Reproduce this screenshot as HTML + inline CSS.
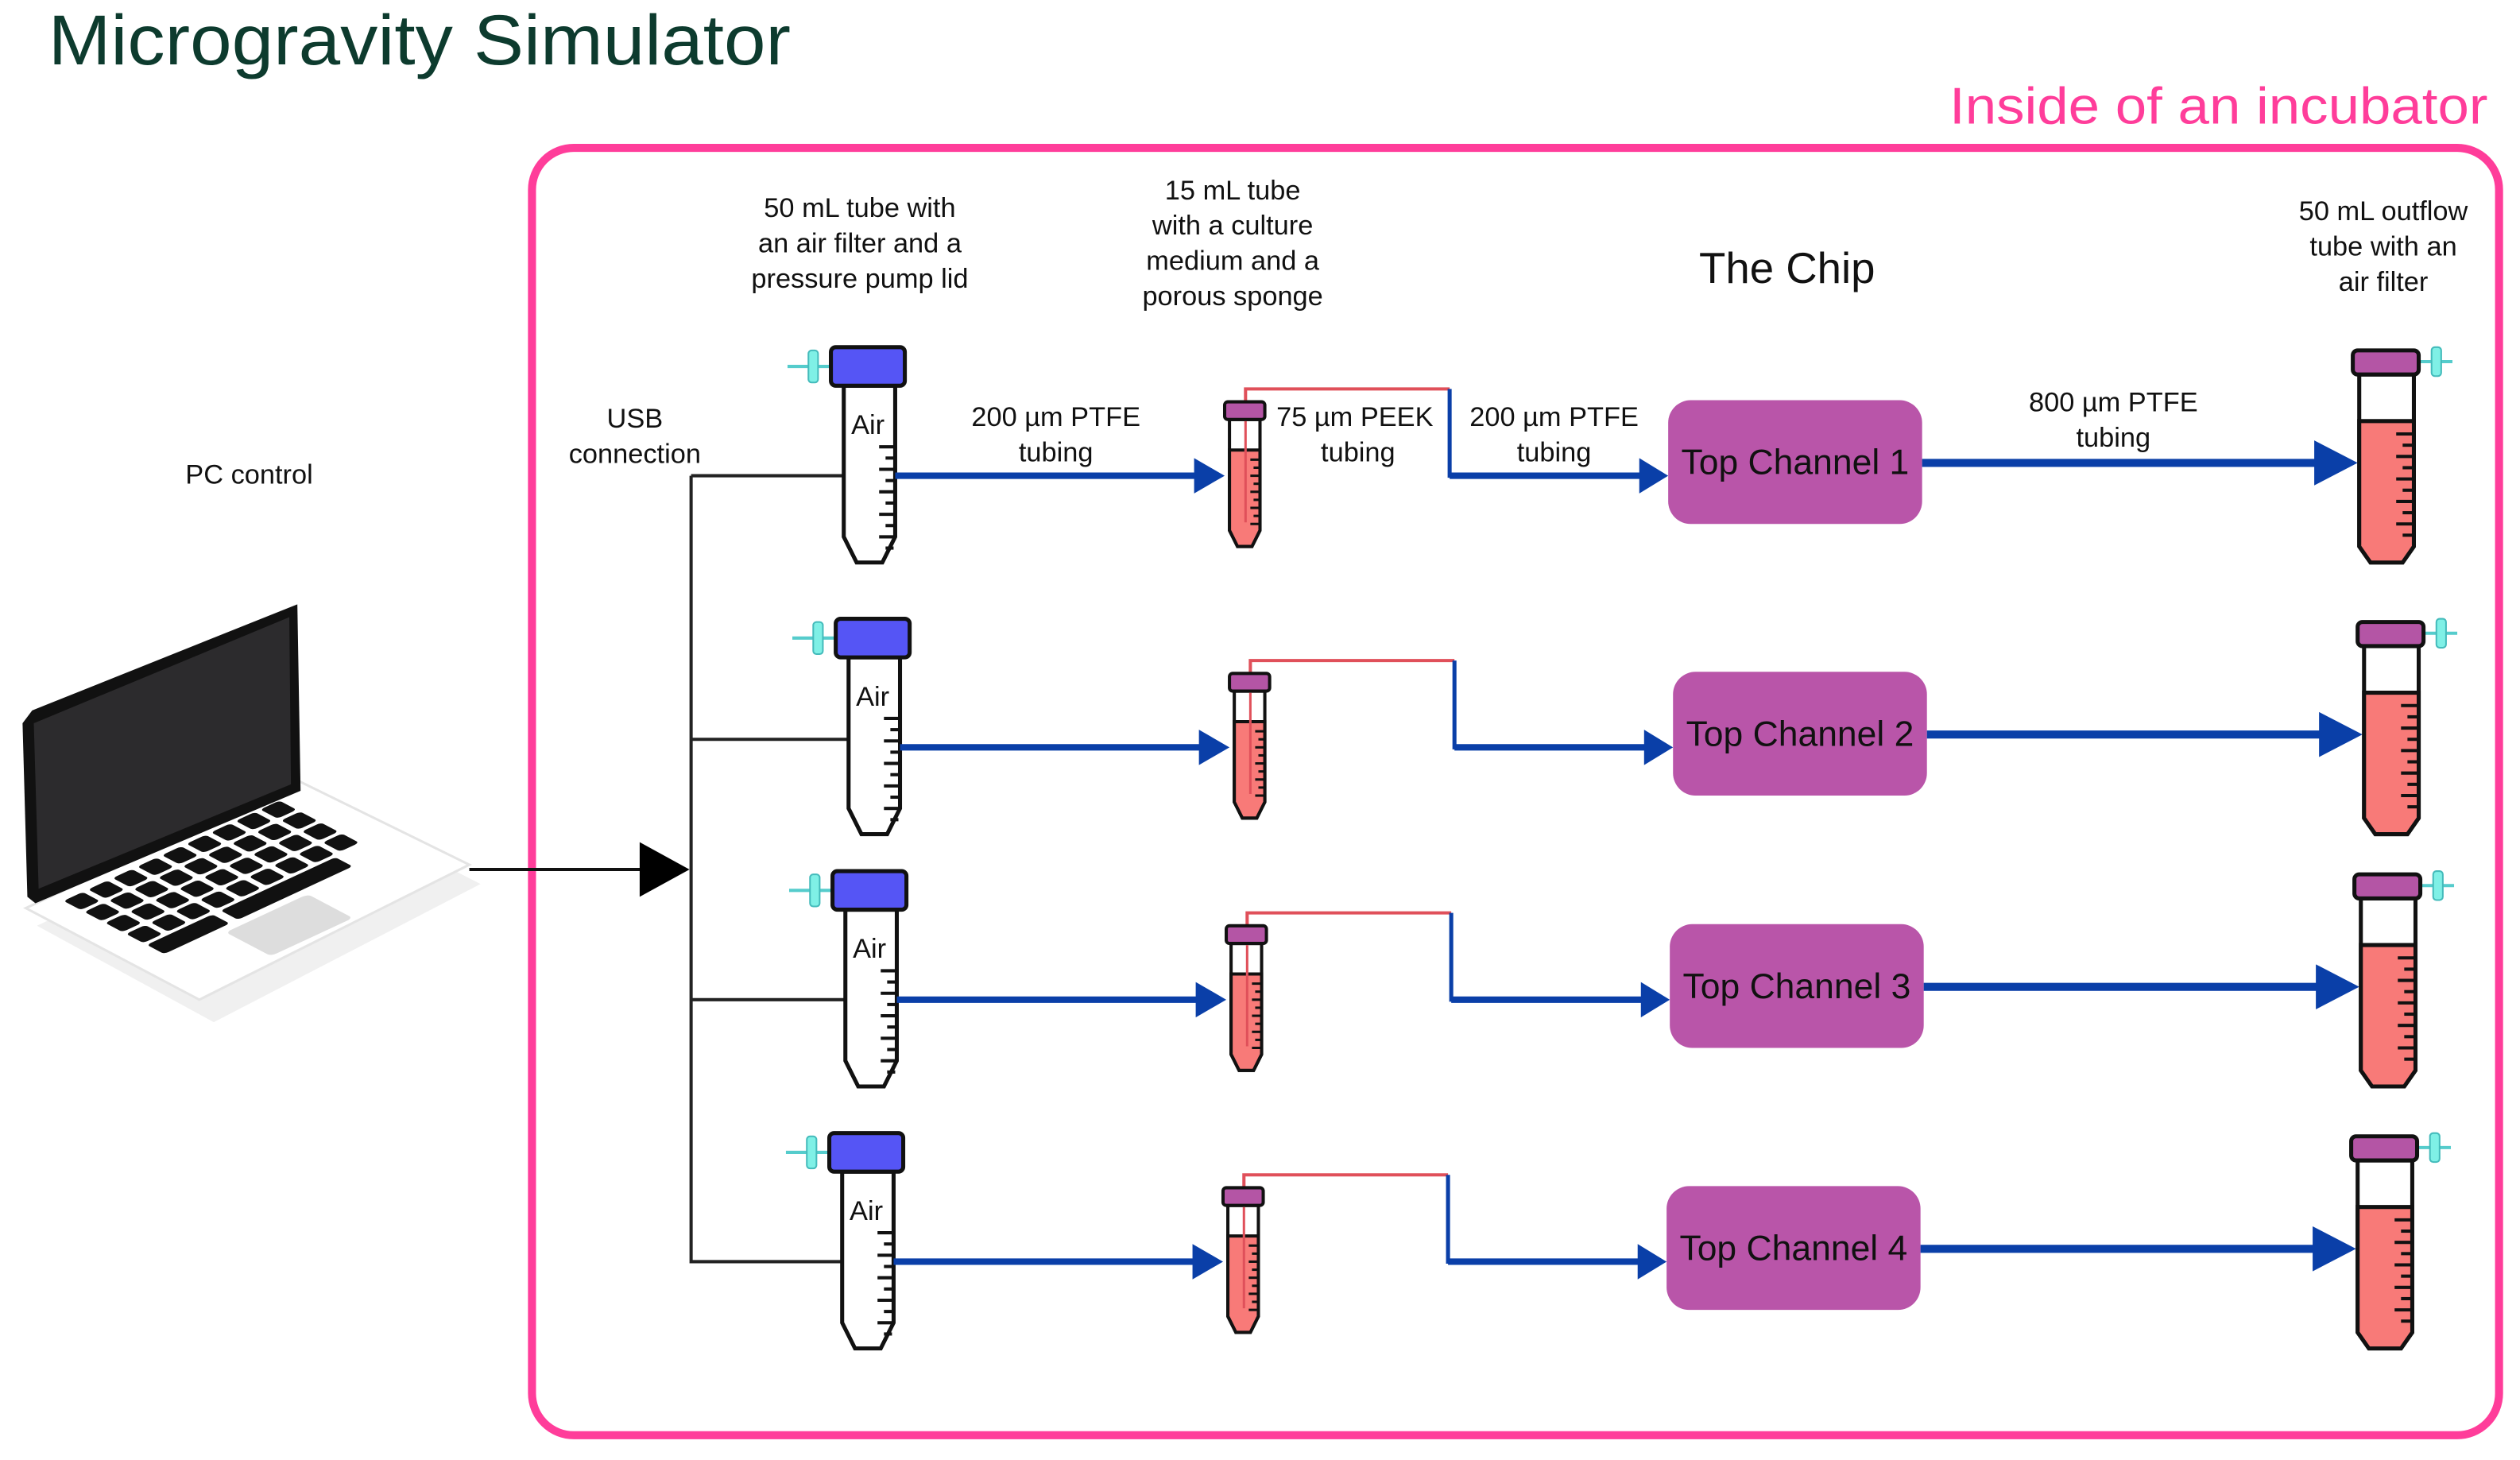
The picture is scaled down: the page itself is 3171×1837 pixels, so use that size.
<!DOCTYPE html>
<html><head><meta charset="utf-8"><style>html,body{margin:0;padding:0;background:#fff}svg{display:block}text{font-family:"Liberation Sans",sans-serif;fill:#111}</style></head><body>
<svg width="3171" height="1837" viewBox="0 0 1568 908.4" xmlns="http://www.w3.org/2000/svg">
<defs>
<g id="ticksA" stroke="#111" stroke-width="2">
<line x1="30" y1="62" x2="40" y2="62"/><line x1="34" y1="69" x2="40" y2="69"/><line x1="30" y1="76" x2="40" y2="76"/><line x1="34" y1="83" x2="40" y2="83"/><line x1="30" y1="90" x2="40" y2="90"/><line x1="34" y1="97" x2="40" y2="97"/><line x1="30" y1="104" x2="40" y2="104"/><line x1="34" y1="111" x2="40" y2="111"/><line x1="30" y1="118" x2="40" y2="118"/><line x1="34" y1="125" x2="39" y2="125"/>
</g>
<g id="t50">
<line x1="-27" y1="12" x2="0" y2="12" stroke="#5cc" stroke-width="2"/>
<rect x="-14" y="2" width="6" height="20" rx="2" fill="#7ff0e6" stroke="#4bb" stroke-width="1"/>
<path d="M8,24 L8,118 L16,134 L32,134 L40,118 L40,24 Z" fill="#fff" stroke="#111" stroke-width="2.5"/>
<use href="#ticksA"/>
<rect x="0" y="0" width="46" height="24" rx="3" fill="#5555f5" stroke="#111" stroke-width="2.5"/>
</g>
<g id="t15">
<path d="M3,11 L3,80 L8,90 L17,90 L22,80 L22,11 Z" fill="#fff" stroke="#111" stroke-width="2"/>
<path d="M3,30 L3,80 L8,90 L17,90 L22,80 L22,30 Z" fill="#f87a78" stroke="#111" stroke-width="2"/>
<g stroke="#111" stroke-width="1.5"><line x1="16" y1="36" x2="22" y2="36"/><line x1="18" y1="41" x2="22" y2="41"/><line x1="16" y1="46" x2="22" y2="46"/><line x1="18" y1="51" x2="22" y2="51"/><line x1="16" y1="56" x2="22" y2="56"/><line x1="18" y1="61" x2="22" y2="61"/><line x1="16" y1="66" x2="22" y2="66"/><line x1="18" y1="71" x2="22" y2="71"/><line x1="16" y1="76" x2="22" y2="76"/></g>
<rect x="0" y="0" width="25" height="11" rx="2" fill="#b455a5" stroke="#111" stroke-width="2"/>
</g>
<g id="tout">
<path d="M4,15 L4,122 L11,132 L31,132 L38,122 L38,15 Z" fill="#fff" stroke="#111" stroke-width="2.5"/>
<path d="M4,44 L4,122 L11,132 L31,132 L38,122 L38,44 Z" fill="#f87a78" stroke="#111" stroke-width="2.5"/>
<g stroke="#111" stroke-width="2"><line x1="27" y1="52" x2="38" y2="52"/><line x1="31" y1="59" x2="38" y2="59"/><line x1="27" y1="66" x2="38" y2="66"/><line x1="31" y1="73" x2="38" y2="73"/><line x1="27" y1="80" x2="38" y2="80"/><line x1="31" y1="87" x2="38" y2="87"/><line x1="27" y1="94" x2="38" y2="94"/><line x1="31" y1="101" x2="38" y2="101"/><line x1="27" y1="108" x2="38" y2="108"/><line x1="31" y1="115" x2="38" y2="115"/></g>
<line x1="41" y1="7" x2="62" y2="7" stroke="#5cc" stroke-width="2"/>
<rect x="49" y="-2" width="6" height="18" rx="2" fill="#7ff0e6" stroke="#4bb" stroke-width="1"/>
<rect x="0" y="0" width="41" height="15" rx="3" fill="#b455a5" stroke="#111" stroke-width="2.5"/>
</g>
<g id="row">
<use href="#t50" x="517" y="216"/>
<line x1="557" y1="296" x2="745" y2="296" stroke="#0a3fa8" stroke-width="4"/>
<polygon points="743,285 762,296 743,307" fill="#0a3fa8"/>
<polyline points="775,325 775,242 902,242" fill="none" stroke="#e0505a" stroke-width="2"/>
<use href="#t15" x="762" y="250"/>
<line x1="775" y1="262" x2="775" y2="325" stroke="#e0505a" stroke-width="1.5"/>
<polyline points="902,242 902,296 1020,296" fill="none" stroke="#0a3fa8" stroke-width="2.5"/>
<line x1="902" y1="296" x2="1022" y2="296" stroke="#0a3fa8" stroke-width="4"/>
<polygon points="1020,285 1038,296 1020,307" fill="#0a3fa8"/>
<rect x="1038" y="249" width="158" height="77" rx="14" fill="#b955a9"/>
<line x1="1196" y1="288" x2="1444" y2="288" stroke="#0a3fa8" stroke-width="5"/>
<polygon points="1440,274 1467,288 1440,302" fill="#0a3fa8"/>
<use href="#tout" x="1464" y="218"/>
<text x="540" y="270" font-size="17" text-anchor="middle">Air</text>
</g>
<g id="krow">
<rect x="0" y="0" width="7" height="10" rx="1.5"/><rect x="9" y="0" width="7" height="10" rx="1.5"/><rect x="18" y="0" width="7" height="10" rx="1.5"/><rect x="27" y="0" width="7" height="10" rx="1.5"/><rect x="36" y="0" width="7" height="10" rx="1.5"/><rect x="45" y="0" width="7" height="10" rx="1.5"/><rect x="54" y="0" width="7" height="10" rx="1.5"/><rect x="63" y="0" width="7" height="10" rx="1.5"/><rect x="72" y="0" width="7" height="10" rx="1.5"/>
</g>
</defs>

<text x="30" y="40" font-size="44" textLength="462" lengthAdjust="spacingAndGlyphs" style="fill:#0d3b2e">Microgravity Simulator</text>
<text x="1213" y="77" font-size="32" textLength="335" lengthAdjust="spacingAndGlyphs" style="fill:#ff3d9a">Inside of an incubator</text>
<rect x="331" y="92" width="1224" height="801" rx="26" fill="none" stroke="#ff3d9a" stroke-width="5"/>

<!-- laptop -->
<g>
<polygon points="20,570 190,490 296,544 130,630" fill="#ccc" opacity="0.3" transform="translate(3,6)"/>
<polygon points="16,565 186,486 292,538 124,622" fill="#fff" stroke="#e4e4e4" stroke-width="1.5"/>
<polygon points="14,450 20,442 185,376 187,492 22,562 17,558" fill="#111"/>
<polygon points="21,450 180,384 181,488 24,553" fill="#2c2b2d"/>
<g transform="matrix(1.70,-0.79,1.08,0.57,16,565)" fill="#111">
<use href="#krow" x="10" y="6"/>
<use href="#krow" x="10" y="18"/>
<use href="#krow" x="10" y="30"/>
<use href="#krow" x="10" y="42"/>
<rect x="10" y="54" width="24" height="10" rx="1.5"/>
<rect x="37" y="54" width="42" height="10" rx="1.5"/>
<rect x="30" y="68" width="30" height="26" rx="2" fill="#ddd"/>
</g>
</g>
<text x="155" y="301" font-size="17" text-anchor="middle">PC control</text>
<line x1="292" y1="541" x2="400" y2="541" stroke="#111" stroke-width="2"/>
<polygon points="398,524 429,541 398,558" fill="#000"/>
<text x="395" y="266" font-size="17" text-anchor="middle">USB</text>
<text x="395" y="288" font-size="17" text-anchor="middle">connection</text>
<g stroke="#222" stroke-width="2">
<line x1="430" y1="296" x2="430" y2="786"/>
<line x1="430" y1="296" x2="525" y2="296"/>
<line x1="430" y1="460" x2="528" y2="460"/>
<line x1="430" y1="622" x2="525" y2="622"/>
<line x1="430" y1="785" x2="525" y2="785"/>
</g>

<g font-size="17" text-anchor="middle">
<text x="535" y="135">50 mL tube with</text><text x="535" y="157">an air filter and a</text><text x="535" y="179">pressure pump lid</text>
<text x="767" y="124">15 mL tube</text><text x="767" y="146">with a culture</text><text x="767" y="168">medium and a</text><text x="767" y="190">porous sponge</text>
<text x="1483" y="137">50 mL outflow</text><text x="1483" y="159">tube with an</text><text x="1483" y="181">air filter</text>
<text x="657" y="265">200 µm PTFE</text><text x="657" y="287">tubing</text>
<text x="843" y="265">75 µm PEEK</text><text x="845" y="287">tubing</text>
<text x="967" y="265">200 µm PTFE</text><text x="967" y="287">tubing</text>
<text x="1315" y="256">800 µm PTFE</text><text x="1315" y="278">tubing</text>
</g>
<text x="1112" y="176" font-size="27" text-anchor="middle">The Chip</text>

<use href="#row"/>
<use href="#row" x="3" y="169"/>
<use href="#row" x="1" y="326"/>
<use href="#row" x="-1" y="489"/>

<g font-size="22" text-anchor="middle">
<text x="1117" y="295">Top Channel 1</text>
<text x="1120" y="464">Top Channel 2</text>
<text x="1118" y="621">Top Channel 3</text>
<text x="1116" y="784">Top Channel 4</text>
</g>
</svg>
</body></html>
